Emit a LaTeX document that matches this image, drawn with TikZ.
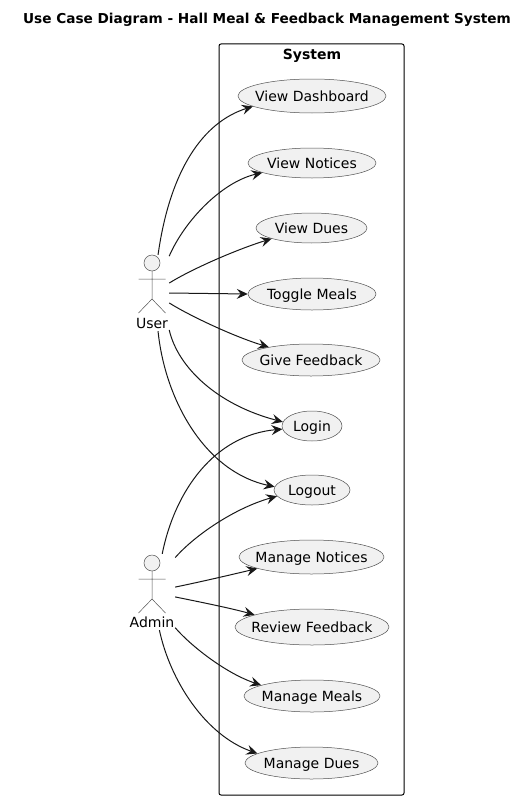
\documentclass[tikz,border=0pt]{standalone}
\usepackage{fontspec}
\setmainfont{DejaVu Sans}
\definecolor{umlink}{HTML}{181818}
\definecolor{umlthin}{HTML}{505050}
\definecolor{umlfill}{HTML}{F1F1F1}
\usetikzlibrary{arrows.meta, positioning, shapes.geometric}
\tikzset{
  ucase/.style={ellipse, draw=umlthin, fill=umlfill, line width=0.5pt, inner xsep=-20pt, inner ysep=-6pt,
    text=black, text height=13pt, text depth=3pt, font=\fontsize{14}{16}\selectfont},
  actorbox/.style={inner sep=0pt, minimum width=#1, minimum height=76pt},
  actorlabel/.style={inner sep=0pt, font=\fontsize{14}{16}\selectfont},
  assoc/.style={draw=umlink, line width=1pt, -{Stealth[length=11pt, width=10pt, inset=4pt]}},
}
\newcommand{\actorman}[1]{%
  \begin{scope}[shift={(152,#1)}, draw=umlthin, line width=0.5pt]
    \draw[fill=umlfill] (0,0) circle (8pt);
    \draw (0,8) -- (0,36) (-13.5,16) -- (13.5,16) (-13.5,50) -- (0,36) -- (13.5,50);
  \end{scope}}

\begin{document}
\begin{tikzpicture}[x=1pt, y=-1pt]
    \useasboundingbox (0,0) rectangle (527,800);
    \node[inner sep=0pt, font=\bfseries\fontsize{13.65}{16}\selectfont] (title) at (267,19.5)
      {Use Case Diagram - Hall Meal \& Feedback Management System};
    % System frame
    \node[draw=black, line width=1pt, rounded corners=2pt, inner sep=0pt,
      minimum width=185pt, minimum height=751pt] (system) at (311.5,419.5) {};
    \node[inner sep=0pt, font=\bfseries\fontsize{14}{16}\selectfont] (systemlabel) at (312,55.5) {System};
    % Use cases
    \node[ucase, minimum width=148pt, minimum height=34pt] (dash) at (312,96) {View Dashboard};
    \node[ucase, minimum width=128pt, minimum height=30pt] (notices) at (312,163) {View Notices};
    \node[ucase, minimum width=111pt, minimum height=30pt] (dues) at (311.5,228) {View Dues};
    \node[ucase, minimum width=128pt, minimum height=32pt] (toggle) at (312,294) {Toggle Meals};
    \node[ucase, minimum width=138pt, minimum height=32pt] (feedback) at (311,360) {Give Feedback};
    \node[ucase, minimum width=60pt, minimum height=30pt] (login) at (312,426) {Login};
    \node[ucase, minimum width=76pt, minimum height=30pt] (logout) at (312,490) {Logout};
    \node[ucase, minimum width=145pt, minimum height=34pt] (mnotices) at (311.5,557) {Manage Notices};
    \node[ucase, minimum width=154pt, minimum height=36pt] (review) at (312,627) {Review Feedback};
    \node[ucase, minimum width=136pt, minimum height=32pt] (mmeals) at (312,696) {Manage Meals};
    \node[ucase, minimum width=133pt, minimum height=32pt] (mdues) at (311.5,763) {Manage Dues};
    % Actors
    \actorman{263}
    \actorman{563}
    \node[actorbox=34pt] (user) at (152,293) {};
    \node[actorbox=46pt] (admin) at (152,592) {};
    \node[actorlabel] (userlabel) at (152,323) {User};
    \node[actorlabel] (adminlabel) at (152,622) {Admin};
    % User arrows
    \draw[assoc] (user.81) .. controls (170,170) and (203,122) .. (dash.190);
    \draw[assoc] (user.65) .. controls (185,220) and (222,182) .. (notices.191);
    \draw[assoc] (user.30) .. controls (190,270) and (235,250) .. (dues.195);
    \draw[assoc] (user.east) -- (toggle.west);
    \draw[assoc] (user.-30) .. controls (190,316) and (235,337) .. (feedback.163);
    \draw[assoc] (user.-65) .. controls (178,368) and (218,405) .. (login.172);
    \draw[assoc] (user.-81) .. controls (165,400) and (205,472) .. (logout.175);
    % Admin arrows
    \draw[assoc] (admin.75) .. controls (175,490) and (215,435) .. (login.186);
    \draw[assoc] (admin.56) .. controls (195,535) and (235,508) .. (logout.190);
    \draw[assoc] (admin.12) .. controls (200,582) and (230,575) .. (mnotices.192);
    \draw[assoc] (admin.-12) .. controls (200,602) and (230,608) .. (review.168);
    \draw[assoc] (admin.-57) .. controls (190,645) and (225,673) .. (mmeals.168);
    \draw[assoc] (admin.-79) .. controls (170,680) and (205,735) .. (mdues.170);
\end{tikzpicture}
\end{document}
